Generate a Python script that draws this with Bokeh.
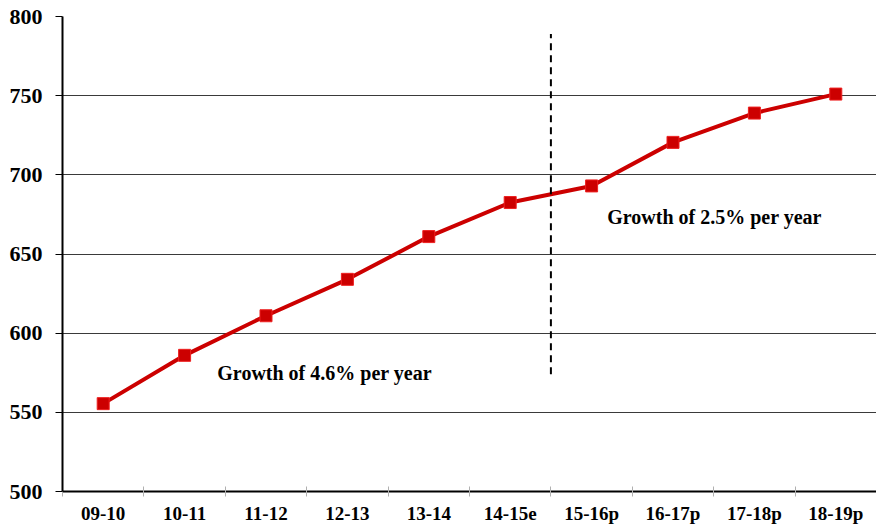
import numpy as np
from bokeh.plotting import figure
from bokeh.models import Range1d, FixedTicker, Label, CustomJSTickFormatter
from bokeh.embed import file_html
from bokeh.resources import INLINE

categories = ["09-10", "10-11", "11-12", "12-13", "13-14", "14-15e",
              "15-16p", "16-17p", "17-18p", "18-19p"]
values = [555.5, 586, 611, 634, 661, 682.5, 693, 720.5, 739, 751]
y_ticks = [500, 550, 600, 650, 700, 750, 800]
note_left = "Growth of 4.6% per year"
note_right = "Growth of 2.5% per year"
split_label = "15-16p"

FONT = "Liberation Serif"
RED = "#CC0000"

n = len(categories)
xs = np.arange(n) + 0.5

p = figure(width=876, height=526, output_backend="svg", toolbar_location=None,
           x_range=Range1d(0, n), y_range=Range1d(500, 800),
           min_border_left=62, min_border_right=0, min_border_top=16,
           min_border_bottom=34)
p.outline_line_color = None
p.background_fill_color = "white"
p.border_fill_color = "white"

# grid
p.xgrid.grid_line_color = None
p.ygrid.grid_line_color = "#3a3a3a"
p.ygrid.grid_line_width = 1.2

# y axis
p.yaxis.ticker = FixedTicker(ticks=y_ticks)
p.yaxis.axis_line_color = "black"
p.yaxis.axis_line_width = 2
p.yaxis.major_tick_line_color = "black"
p.yaxis.major_tick_line_width = 1.2
p.yaxis.major_tick_in = 0
p.yaxis.major_tick_out = 7
p.yaxis.minor_tick_line_color = None
p.yaxis.major_label_text_font = FONT
p.yaxis.major_label_text_font_style = "bold"
p.yaxis.major_label_text_font_size = "22px"
p.yaxis.major_label_text_color = "black"
p.yaxis.major_label_standoff = 13

# x axis
p.xaxis.ticker = FixedTicker(ticks=list(xs), minor_ticks=list(range(n + 1)))
p.xaxis.formatter = CustomJSTickFormatter(args=dict(labels=categories),
                                          code="return labels[Math.floor(tick)];")
p.xaxis.axis_line_color = "black"
p.xaxis.axis_line_width = 2
p.xaxis.major_tick_line_color = None
p.xaxis.minor_tick_line_color = "#b0b0b0"
p.xaxis.minor_tick_in = 5
p.xaxis.minor_tick_out = 5
p.xaxis.major_label_text_font = FONT
p.xaxis.major_label_text_font_style = "bold"
p.xaxis.major_label_text_font_size = "19px"
p.xaxis.major_label_text_color = "black"
p.xaxis.major_label_standoff = 5

# data
p.line(xs, values, line_color=RED, line_width=4)
p.scatter(xs, values, marker="square", size=12, fill_color=RED,
          line_color="#EE2020", line_width=1)

# dashed separator
split_x = categories.index(split_label)
p.segment(x0=[split_x], y0=[574], x1=[split_x], y1=[789],
          line_color="black", line_width=2, line_dash="7 5")

# annotations
for txt, x, y in [(note_left, 3.22, 575), (note_right, 8.01, 673.5)]:
    p.add_layout(Label(x=x, y=y, text=txt, text_font=FONT, text_font_style="bold",
                       text_font_size="20px", text_align="center",
                       text_baseline="middle", text_color="black"))

open("out.html", "w").write(file_html(p, INLINE))
